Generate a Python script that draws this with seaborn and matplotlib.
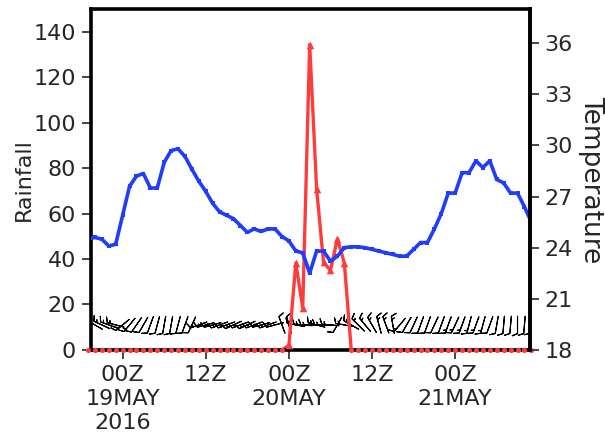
import numpy as np
import pandas as pd
import matplotlib
matplotlib.use('Agg')
import matplotlib.pyplot as plt
import seaborn as sns

# hours relative to 00Z 19 MAY 2016
hours = list(range(-5, 60))
temperature = [24.5, 24.6, 24.5, 24.1, 24.2, 25.9, 27.6, 28.2, 28.35, 27.5,
               27.5, 29.0, 29.7, 29.8, 29.35, 28.6, 27.9, 27.3, 26.6, 26.1,
               25.9, 25.7, 25.3, 24.9, 25.1, 24.95, 25.1, 25.1, 24.65, 24.4,
               23.8, 23.7, 22.5, 23.8, 23.8, 23.2, 23.5, 24.0, 24.05, 24.05,
               24.0, 23.9, 23.8, 23.7, 23.6, 23.5, 23.5, 23.9, 24.3, 24.3,
               25.1, 26.0, 27.2, 27.2, 28.4, 28.4, 29.1, 28.7, 29.1, 28.0,
               27.8, 27.2, 27.2, 26.4, 25.5]
rainfall = [0, 0, 0, 0, 0, 0, 0, 0, 0, 0,
            0, 0, 0, 0, 0, 0, 0, 0, 0, 0,
            0, 0, 0, 0, 0, 0, 0, 0, 0, 2,
            38.3, 18.5, 134.4, 71, 38.5, 35, 48.9, 38.3, 0, 0,
            0, 0, 0, 0, 0, 0, 0, 0, 0, 0,
            0, 0, 0, 0, 0, 0, 0, 0, 0, 0,
            0, 0, 0, 0, 0]
wind_dir = [350, 300, 295, 290, 285, 230, 220, 215, 210, 200,
            195, 190, 190, 195, 200, 205, 250, 255, 255, 250,
            250, 245, 250, 245, 250, 255, 250, 255, 340, 345,
            280, 275, 270, 285, 270, 275, 210, 280, 300, 315,
            320, 330, 345, 340, 350, 220, 210, 205, 200, 200,
            205, 200, 200, 205, 200, 195, 200, 195, 200, 190,
            185, 185, 180, 185, 190]
wind_spd = [10, 15, 15, 15, 15, 15, 15, 12, 12, 12,
            10, 10, 10, 10, 10, 12, 15, 15, 15, 15,
            15, 15, 15, 15, 15, 15, 15, 12, 10, 10,
            15, 15, 15, 15, 15, 15, 12, 15, 15, 15,
            15, 15, 15, 15, 15, 15, 12, 12, 12, 12,
            12, 12, 15, 15, 15, 15, 15, 15, 12, 12,
            12, 12, 12, 12, 12]
xtick_pos = [0, 12, 24, 36, 48]
xtick_labels = ['00Z\n19MAY\n2016', '12Z', '00Z\n20MAY', '12Z', '00Z\n21MAY']
rain_ticks = list(range(0, 141, 20))
temp_ticks = list(range(18, 37, 3))

sns.set_theme(style='white')
plt.rcParams['font.family'] = ['DejaVu Sans']

fig = plt.figure(figsize=(6.05, 4.32), dpi=100)
ax = fig.add_axes([0.150, 0.190, 0.726, 0.789])
ax2 = ax.twinx()

df = pd.DataFrame({'hour': hours, 'temp': temperature, 'rain': rainfall})
red = '#ff3c3c'
blue = '#1f3cff'

sns.lineplot(data=df, x='hour', y='rain', ax=ax, color=red, lw=2.4, zorder=3)
wet = df[df['rain'] > 0]
dry = df[df['rain'] == 0]
sns.scatterplot(data=wet, x='hour', y='rain', ax=ax, color=red, marker='^',
                s=30, edgecolor=red, linewidth=0, zorder=4)
sns.scatterplot(data=dry, x='hour', y='rain', ax=ax, color=red, marker='o',
                s=14, edgecolor=red, linewidth=0, zorder=4, clip_on=False)

sns.lineplot(data=df, x='hour', y='temp', ax=ax2, color=blue, lw=2.6,
             marker='s', markersize=3.2, markeredgewidth=0)

rad = np.deg2rad(np.array(wind_dir, dtype=float))
spd = np.array(wind_spd, dtype=float)
u = -spd * np.sin(rad)
v = -spd * np.cos(rad)
ax.barbs(hours, [11] * len(hours), u, v, length=5.0, pivot='middle',
         linewidth=0.8, color='black', zorder=2.5,
         sizes=dict(height=0.3, spacing=0.18, width=0.25))

ax.set_xlim(-4.6, 58.8)
ax.set_ylim(0, 150)
ax2.set_ylim(18, 38)

ax.set_xticks(xtick_pos)
ax.set_xticklabels(xtick_labels, linespacing=1.25)
ax.set_yticks(rain_ticks)
ax2.set_yticks(temp_ticks)

for s in ax.spines.values():
    s.set_linewidth(2.6)
    s.set_color('black')
    s.set_zorder(3.5)
for name, s in ax2.spines.items():
    s.set_linewidth(2.6)
    s.set_color('black')
    s.set_visible(name == 'right')

ax.tick_params(axis='both', direction='out', length=6.5, width=1.4,
               color='#444444', labelsize=16, pad=4,
               bottom=True, left=True)
ax2.tick_params(axis='y', direction='out', length=6.5, width=1.4,
                color='#444444', labelsize=16, pad=4, right=True)

ax.set_xlabel('')
ax.set_ylabel('Rainfall', fontsize=16, labelpad=0)
ax2.set_ylabel('Temperature', fontsize=19, rotation=270, va='bottom',
               labelpad=4)

fig.savefig('out.png', dpi=100)
